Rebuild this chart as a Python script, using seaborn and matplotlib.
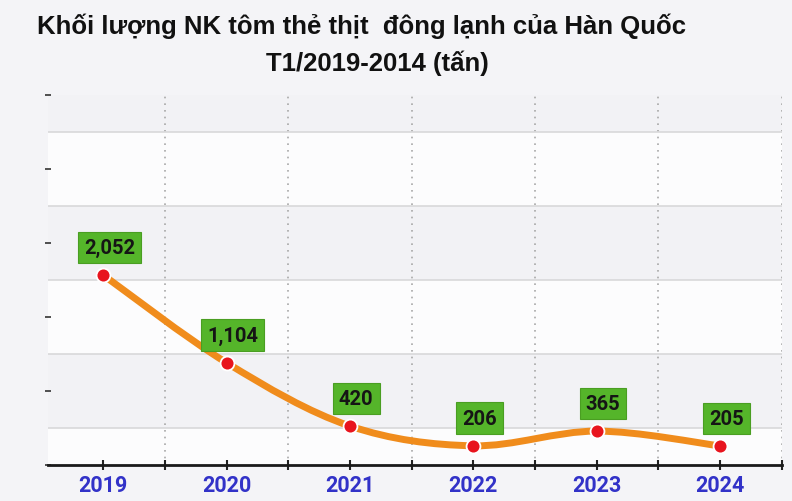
import matplotlib
matplotlib.use("Agg")
import matplotlib.pyplot as plt
import seaborn as sns
import pandas as pd
from matplotlib.path import Path
from matplotlib.patches import PathPatch

# Dữ liệu
years = ["2019", "2020", "2021", "2022", "2023", "2024"]
volumes = [2052, 1104, 420, 206, 365, 205]
value_labels = ["2,052", "1,104", "420", "206", "365", "205"]

df = pd.DataFrame({"year": years, "volume": volumes})
df["pos"] = range(len(df))

sns.set_theme(style="white")
plt.rcParams['font.family'] = ['Roboto', 'DejaVu Sans']

fig = plt.figure(figsize=(7.92, 5.02), dpi=100, facecolor="#f4f4f7")
ax = fig.add_axes([0.061, 0.072, 0.926, 0.737])
ax.set_facecolor("#f4f4f6")

# dải nền xen kẽ
band_edges = [0, 400, 1200, 2000, 2800, 3600, 4000]
for i in range(len(band_edges) - 1):
    c = "#fcfcfd" if i % 2 == 0 else "#f2f2f5"
    ax.axhspan(band_edges[i], band_edges[i + 1], color=c, zorder=0, lw=0)

# đường cong mượt (Catmull-Rom -> Bezier)
pts = list(zip(df["pos"], df["volume"]))
verts = [pts[0]]
codes = [Path.MOVETO]
n = len(pts)
for i in range(n - 1):
    p0 = pts[i - 1] if i > 0 else pts[i]
    p1 = pts[i]
    p2 = pts[i + 1]
    p3 = pts[i + 2] if i + 2 < n else pts[i + 1]
    c1 = (p1[0] + (p2[0] - p0[0]) / 6, p1[1] + (p2[1] - p0[1]) / 6)
    c2 = (p2[0] - (p3[0] - p1[0]) / 6, p2[1] - (p3[1] - p1[1]) / 6)
    verts += [c1, c2, p2]
    codes += [Path.CURVE4] * 3
ax.add_patch(PathPatch(Path(verts, codes), facecolor="none", edgecolor="#f08c1c",
                       lw=5, capstyle="round", zorder=3))

sns.scatterplot(data=df, x="pos", y="volume", s=100, color="#e8141e",
                edgecolor="white", linewidth=1.3, zorder=4, ax=ax, legend=False)

for x, y, lab in zip(df["pos"], df["volume"], value_labels):
    ax.annotate(lab, (x, y), xytext=(4.5, 20), textcoords="offset points",
                ha="center", va="center", fontsize=14.5, fontweight="bold",
                color="#151515", zorder=5,
                bbox=dict(boxstyle="square,pad=0.3", fc="#55b52a", ec="#4a9e22", lw=0.8))

ax.set_xlim(-0.445, 5.5)
ax.set_ylim(0, 4000)

ax.set_xticks(range(len(years)))
ax.set_xticklabels(years)
ax.set_xticks([i + 0.5 for i in range(len(years))], minor=True)
ax.set_yticks(range(0, 4001, 800))
ax.set_yticklabels([])
ax.set_yticks(range(400, 4000, 800), minor=True)

ax.grid(False)
ax.grid(which="minor", axis="x", color="#a8a8a8", ls=(0, (1, 3)), lw=1.2)
ax.grid(which="minor", axis="y", color="#d8d8da", ls="-", lw=1.2)

ax.tick_params(axis="x", which="both", direction="inout", length=7, width=1.5,
               color="#222222", bottom=True, pad=3)
ax.tick_params(axis="x", which="major", labelsize=15.5, labelcolor="#3232c8")
ax.tick_params(axis="y", which="major", direction="inout", length=4, width=1.2,
               color="#333333", left=True)
ax.tick_params(axis="y", which="minor", length=0)
for t in ax.get_xticklabels():
    t.set_fontweight("bold")

for s in ["top", "right", "left"]:
    ax.spines[s].set_visible(False)
ax.spines["bottom"].set_color("#1a1a1a")
ax.spines["bottom"].set_linewidth(2)
ax.set_xlabel("")
ax.set_ylabel("")

fig.text(0.456, 0.948, "Khối lượng NK tôm thẻ thịt  đông lạnh của Hàn Quốc",
         ha="center", va="center", fontsize=18.5, fontweight="bold", color="#111111",
         family=["Liberation Sans", "DejaVu Sans"])
fig.text(0.477, 0.873, "T1/2019-2014 (tấn)", ha="center", va="center",
         fontsize=18.5, fontweight="bold", color="#111111",
         family=["Liberation Sans", "DejaVu Sans"])

fig.savefig("out.png", dpi=100, facecolor=fig.get_facecolor())
